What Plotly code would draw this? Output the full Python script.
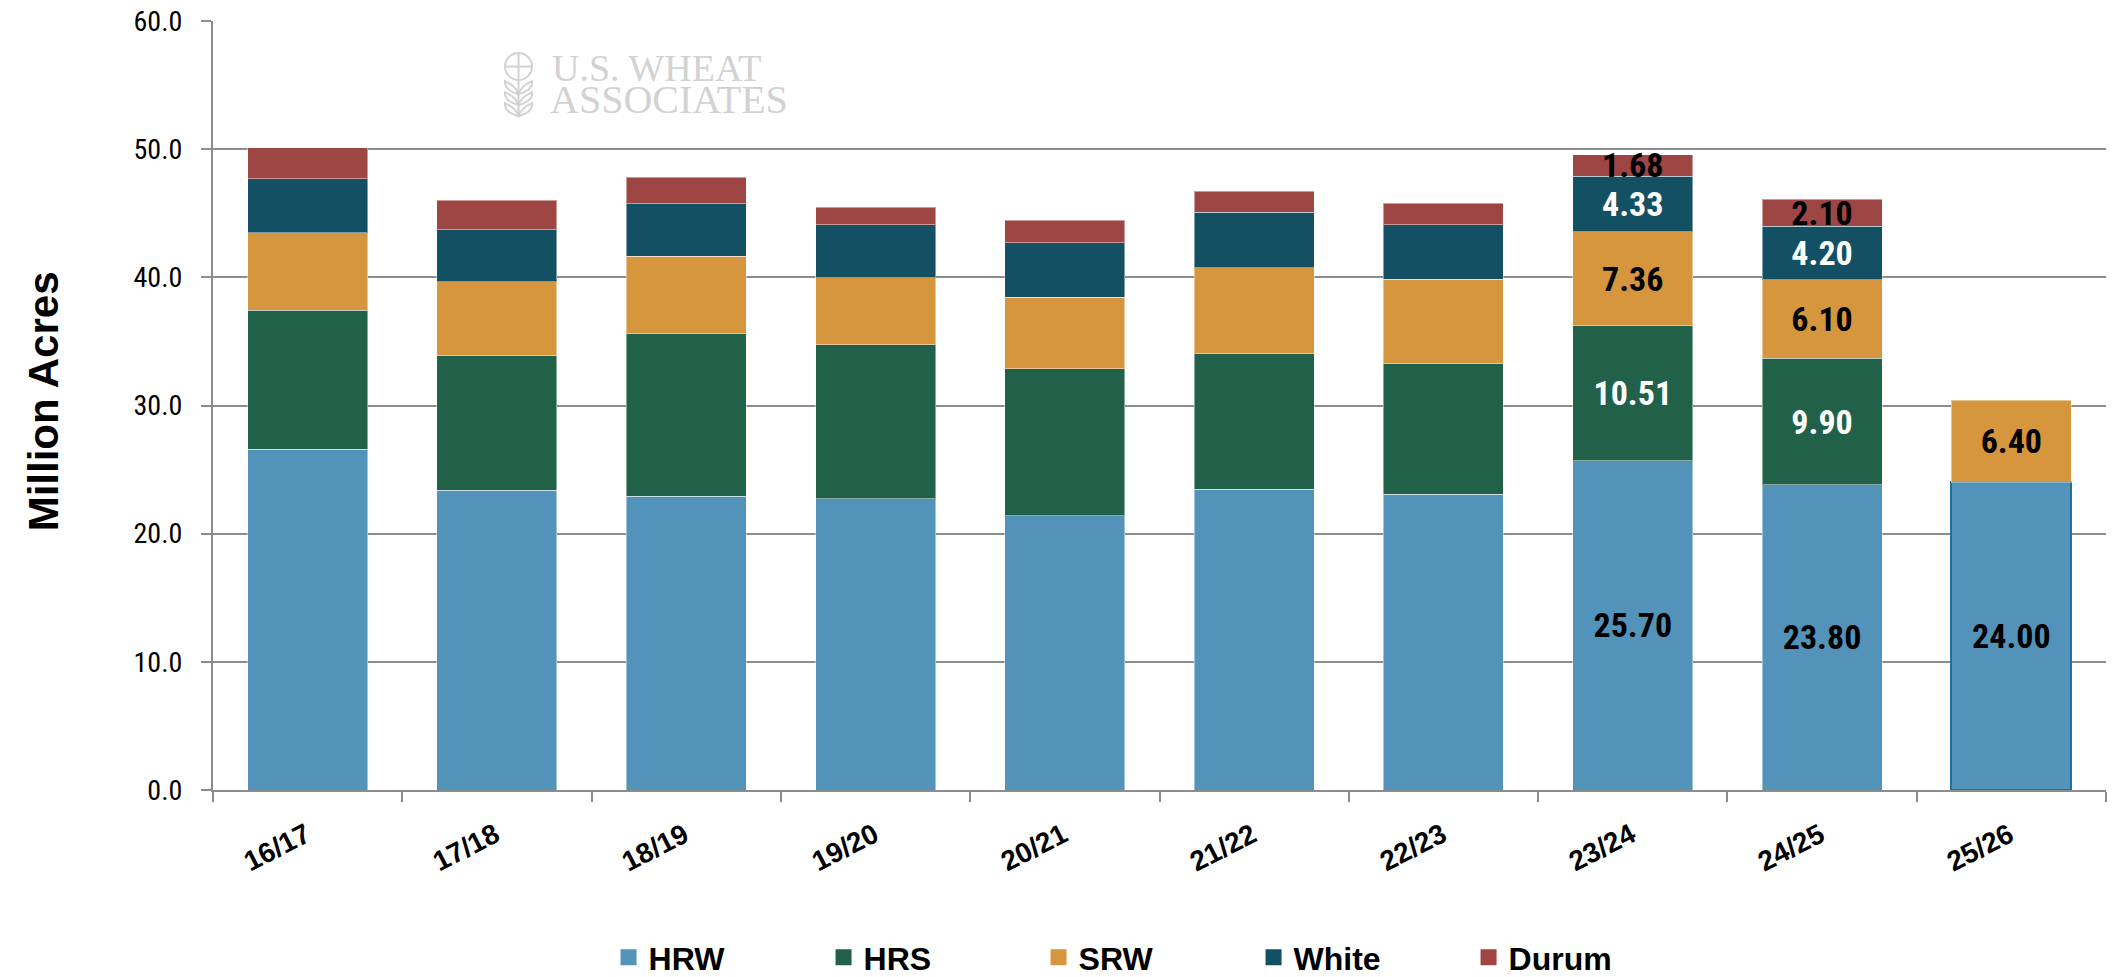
import plotly.graph_objects as go

years = ["16/17", "17/18", "18/19", "19/20", "20/21", "21/22", "22/23", "23/24", "24/25", "25/26"]
hrw = [26.59, 23.38, 22.91, 22.73, 21.38, 23.48, 23.07, 25.70, 23.80, 24.00]
hrs = [10.86, 10.50, 12.69, 12.00, 11.48, 10.61, 10.18, 10.51, 9.90, None]
srw = [6.04, 5.78, 6.06, 5.24, 5.60, 6.64, 6.62, 7.36, 6.10, 6.40]
white = [4.19, 4.06, 4.09, 4.14, 4.24, 4.35, 4.24, 4.33, 4.20, None]
durum = [2.42, 2.30, 2.06, 1.36, 1.75, 1.64, 1.67, 1.68, 2.10, None]
labeled_years = ["23/24", "24/25", "25/26"]

series = [
    ("HRW", hrw, "#5392b9", "black"),
    ("HRS", hrs, "#216149", "white"),
    ("SRW", srw, "#d6963e", "black"),
    ("White", white, "#135064", "white"),
    ("Durum", durum, "#9e4644", "black"),
]

NARROW = "Liberation Sans Narrow, Arial Narrow, Roboto Condensed, sans-serif"
SANS = "Liberation Sans, Arial, sans-serif"

fig = go.Figure()
for name, vals, color, tcolor in series:
    texts = [f"{v:.2f}" if (y in labeled_years and v is not None) else "" for y, v in zip(years, vals)]
    line_colors = ["rgba(255,255,255,0.45)"] * len(years)
    line_widths = [1] * len(years)
    if name == "HRW":
        line_colors[-1] = "#1d72a0"
        line_widths[-1] = 2
    fig.add_trace(go.Bar(
        name=name, x=years, y=vals, showlegend=False,
        marker=dict(color=color, line=dict(color=line_colors, width=line_widths)),
        text=texts, textposition="inside", insidetextanchor="middle",
        insidetextfont=dict(color=tcolor, family=NARROW, size=34, weight="bold"),
        cliponaxis=False,
    ))
# legend entries (square swatches)
for name, vals, color, tcolor in series:
    fig.add_trace(go.Scatter(name=name, x=[None], y=[None], mode="markers",
                             marker=dict(symbol="square", size=17, color=color), showlegend=True))

fig.update_layout(
    barmode="stack", bargap=0.366,
    width=2113, height=977,
    margin=dict(l=213, r=7, t=21, b=187, autoexpand=False),
    plot_bgcolor="white", paper_bgcolor="white",
    uniformtext=dict(minsize=34, mode="show"),
    showlegend=True,
    legend=dict(orientation="h", xref="container", yref="container",
                x=0.288, xanchor="left", y=0.020, yanchor="middle",
                font=dict(family=SANS, size=32, color="black", weight="bold"),
                entrywidth=170, entrywidthmode="pixels", traceorder="normal",
                itemsizing="trace"),
)

fig.update_yaxes(range=[0, 60], dtick=10, tickformat=".1f", automargin=False,
                 showgrid=True, gridcolor="#8c8c8c", gridwidth=2,
                 showline=True, linecolor="#8c8c8c", linewidth=2,
                 ticks="outside", ticklen=10, tickcolor="#8c8c8c", tickwidth=2,
                 ticklabelstandoff=13,
                 tickfont=dict(family=NARROW, size=28, color="black"),
                 zeroline=False)
fig.update_xaxes(type="category", categoryorder="array", categoryarray=years, range=[-0.5, len(years) - 0.5],
                 showline=True, linecolor="#8c8c8c", linewidth=2, automargin=False,
                 ticks="outside", ticklen=10, tickcolor="#8c8c8c", tickwidth=2, tickson="boundaries",
                 showticklabels=False)

# category labels (rotated), anchored to each category
for yr in years:
    fig.add_annotation(x=yr, y=0, xref="x", yref="y", text=yr, showarrow=False,
                       textangle=-27, xanchor="right", yanchor="top", xshift=10, yshift=-25,
                       font=dict(family=SANS, size=28, color="black", weight="bold"))

W, H = 1893.0, 768.3
def px(x):
    return (x - 213) / W
def py(y):
    return (789.3 - y) / H

fig.add_annotation(xref="paper", yref="paper", x=px(43), y=py(401), text="Million Acres", showarrow=False,
                   textangle=-90, xanchor="center", yanchor="middle",
                   font=dict(family=SANS, size=42, color="black", weight="bold"))

# watermark logo
fig.add_annotation(xref="paper", yref="paper", x=px(550), y=py(91), xanchor="left", yanchor="bottom",
                   text="U.S. WHEAT", showarrow=False,
                   font=dict(family="Liberation Serif, Times New Roman, serif", size=38, color="#d2d2d2"))
fig.add_annotation(xref="paper", yref="paper", x=px(548), y=py(124), xanchor="left", yanchor="bottom",
                   text="ASSOCIATES", showarrow=False,
                   font=dict(family="Liberation Serif, Times New Roman, serif", size=40, color="#d2d2d2"))
gray = "#d2d2d2"
fig.add_shape(type="circle", xref="paper", yref="paper", x0=px(505), x1=px(532), y0=py(80), y1=py(53),
              line=dict(color=gray, width=2))
fig.add_shape(type="line", xref="paper", yref="paper", x0=px(518.5), x1=px(518.5), y0=py(53), y1=py(116),
              line=dict(color=gray, width=2))
fig.add_shape(type="line", xref="paper", yref="paper", x0=px(505), x1=px(532), y0=py(66.5), y1=py(66.5),
              line=dict(color=gray, width=2))
for yy in (86, 97, 108):
    fig.add_shape(type="path", xref="paper", yref="paper",
                  path=f"M {px(518.5)},{py(yy+8)} Q {px(504)},{py(yy+4)} {px(505)},{py(yy-5)} Q {px(516)},{py(yy)} {px(518.5)},{py(yy+8)} Z",
                  line=dict(color=gray, width=2))
    fig.add_shape(type="path", xref="paper", yref="paper",
                  path=f"M {px(518.5)},{py(yy+8)} Q {px(533)},{py(yy+4)} {px(532)},{py(yy-5)} Q {px(521)},{py(yy)} {px(518.5)},{py(yy+8)} Z",
                  line=dict(color=gray, width=2))

fig.write_html("out.html", config={"displayModeBar": False},
               post_script="document.body.style.margin='0';document.body.style.overflow='hidden';")
